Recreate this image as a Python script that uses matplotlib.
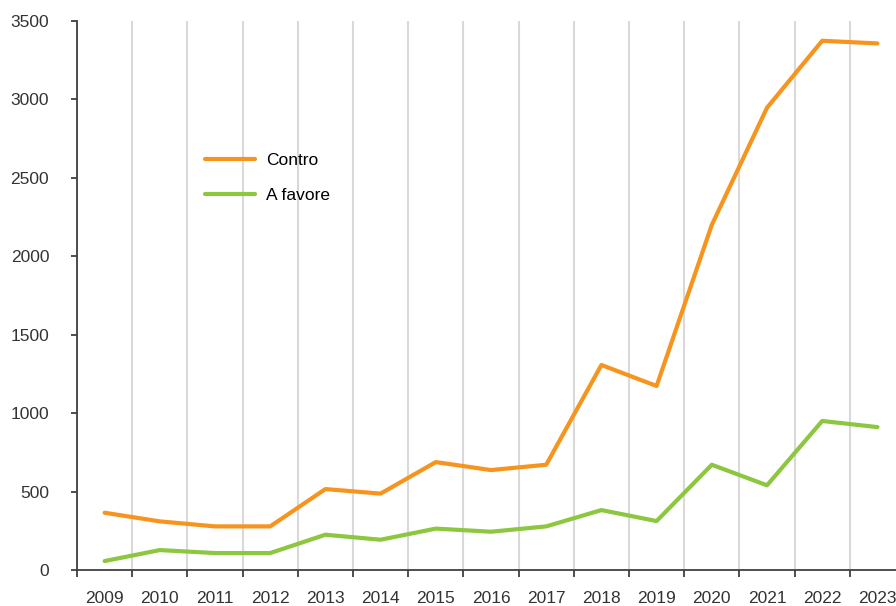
import matplotlib
matplotlib.use('Agg')
import matplotlib.pyplot as plt
import numpy as np

years = ['2009', '2010', '2011', '2012', '2013', '2014', '2015', '2016',
         '2017', '2018', '2019', '2020', '2021', '2022', '2023']
contro = [365, 310, 278, 278, 516, 487, 688, 637, 671, 1307, 1173, 2200, 2947, 3374, 3357]
a_favore = [57, 127, 108, 108, 225, 193, 264, 244, 278, 382, 312, 671, 540, 950, 911]

plt.rcParams['font.family'] = ['Liberation Sans', 'DejaVu Sans']

fig = plt.figure(figsize=(8.96, 6.06), dpi=100)
ax = fig.add_axes([77/896, 1 - 570/606, 828/896, 549/606])

x = np.arange(len(years))
ax.plot(x, contro, color='#F7941D', lw=3, label='Contro', solid_capstyle='round')
ax.plot(x, a_favore, color='#8DC63F', lw=3, label='A favore', solid_capstyle='round')

ax.set_xlim(-0.5, len(years) - 0.5)
ax.set_ylim(0, 3500)
ax.set_yticks(np.arange(0, 3501, 500))
ax.set_xticks(x)
ax.set_xticklabels(years)
ax.set_xticks(np.arange(-0.5, len(years), 1), minor=True)
ax.tick_params(axis='x', which='major', length=0, pad=15, labelsize=12.5, colors='#333333')
ax.tick_params(axis='x', which='minor', length=5, width=1.3, color='#404040')
ax.tick_params(axis='y', length=4, width=1.3, color='#404040', pad=16,
               labelsize=12.5, labelcolor='#333333')
ax.grid(axis='x', which='minor', color='#D9D9D9', lw=1.5)
ax.set_axisbelow(True)

for s in ['top', 'right']:
    ax.spines[s].set_visible(False)
for s in ['left', 'bottom']:
    ax.spines[s].set_color('#404040')
    ax.spines[s].set_linewidth(1.3)

ax.legend(loc='upper left', bbox_to_anchor=(205/896, 1 - 153/606),
          bbox_transform=fig.transFigure, frameon=False, fontsize=12.5,
          borderpad=0, borderaxespad=0,
          handlelength=2.9, labelspacing=1.15, handletextpad=0.6)

fig.savefig('out.png', dpi=100)
